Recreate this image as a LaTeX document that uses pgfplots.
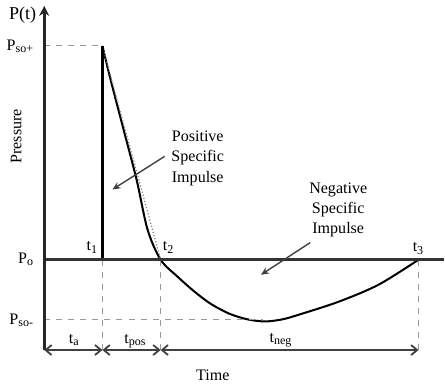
\documentclass[border=0pt]{standalone}
\usepackage{pgfplots}
\pgfplotsset{compat=1.18}
\usepackage{fontspec}
\setmainfont{Liberation Serif}
\usetikzlibrary{arrows.meta}
\begin{document}
\begin{tikzpicture}
\begin{axis}[
  scale only axis, width=222.5pt, height=192.5pt,
  xmin=-47, xmax=398, ymin=-125, ymax=260,
  axis lines=none, clip=false,
  font=\fontsize{8}{10}\selectfont,
]
% pressure-time history
\addplot[black, line width=1pt, smooth, tension=0.5] coordinates {
 (58,213) (66,180) (79,130) (92,80) (103,30) (116,0) (133,-17) (150,-32) (166,-44) (185,-54) (203,-59.5) (220,-61.5) (237,-59.5) (253,-55) (293,-42) (333,-25) (373,0)
};
% linear approximation
\addplot[gray, densely dotted, line width=0.6pt] coordinates {(58,213) (116,0)};
% t1 vertical rise
\addplot[black, line width=1.1pt] coordinates {(58,0) (58,213)};
% dashed guides
\addplot[gray!80, dashed, line width=0.5pt] coordinates {(0,213) (58,213)};
\addplot[gray!80, dashed, line width=0.5pt] coordinates {(0,-60) (218,-60)};
\addplot[gray!80, dashed, line width=0.5pt] coordinates {(58,0) (58,-90)};
\addplot[gray!80, dashed, line width=0.5pt] coordinates {(116,0) (116,-90)};
\addplot[gray!80, dashed, line width=0.5pt] coordinates {(373,0) (373,-90)};
% axes
\addplot[black!80, line width=1.4pt] coordinates {(0,0) (398,0)};
\addplot[black!85, line width=1.4pt, -{Stealth[length=5pt,width=5pt]}] coordinates {(0,-90) (0,253)};
% duration arrows
\addplot[black!75, line width=0.9pt, {Straight Barb[length=3pt,width=5pt]}-{Straight Barb[length=3pt,width=5pt]}] coordinates {(0,-90) (58,-90)};
\addplot[black!75, line width=0.9pt, {Straight Barb[length=3pt,width=5pt]}-{Straight Barb[length=3pt,width=5pt]}] coordinates {(58,-90) (116,-90)};
\addplot[black!75, line width=0.9pt, {Straight Barb[length=3pt,width=5pt]}-{Straight Barb[length=3pt,width=5pt]}] coordinates {(116,-90) (373,-90)};
% annotation arrows
\addplot[black!75, line width=0.7pt, -{Stealth[length=4pt,width=3.5pt]}] coordinates {(120,103) (68,70)};
\addplot[black!75, line width=0.7pt, -{Stealth[length=4pt,width=3.5pt]}] coordinates {(265,17) (216,-15)};
% labels
\node[anchor=east, font=\fontsize{9}{10}\selectfont] at (axis cs:-1,244) {P(t)};
\node[anchor=east] at (axis cs:-3,213) {P\textsubscript{so+}};
\node[anchor=east] at (axis cs:-3,0) {P\textsubscript{o}};
\node[anchor=east] at (axis cs:-3,-60) {P\textsubscript{so-}};
\node[rotate=90] at (axis cs:-28,123) {Pressure};
\node at (axis cs:168,-115) {Time};
\node at (axis cs:48,12) {t\textsubscript{1}};
\node at (axis cs:124,12) {t\textsubscript{2}};
\node at (axis cs:373,11) {t\textsubscript{3}};
\node at (axis cs:30,-80) {t\textsubscript{a}};
\node at (axis cs:91,-81) {t\textsubscript{pos}};
\node at (axis cs:236,-80) {t\textsubscript{neg}};
\node[align=center] at (axis cs:153,101) {Positive\\Specific\\Impulse};
\node[align=center] at (axis cs:293,50) {Negative\\Specific\\Impulse};
\end{axis}
\end{tikzpicture}
\end{document}
